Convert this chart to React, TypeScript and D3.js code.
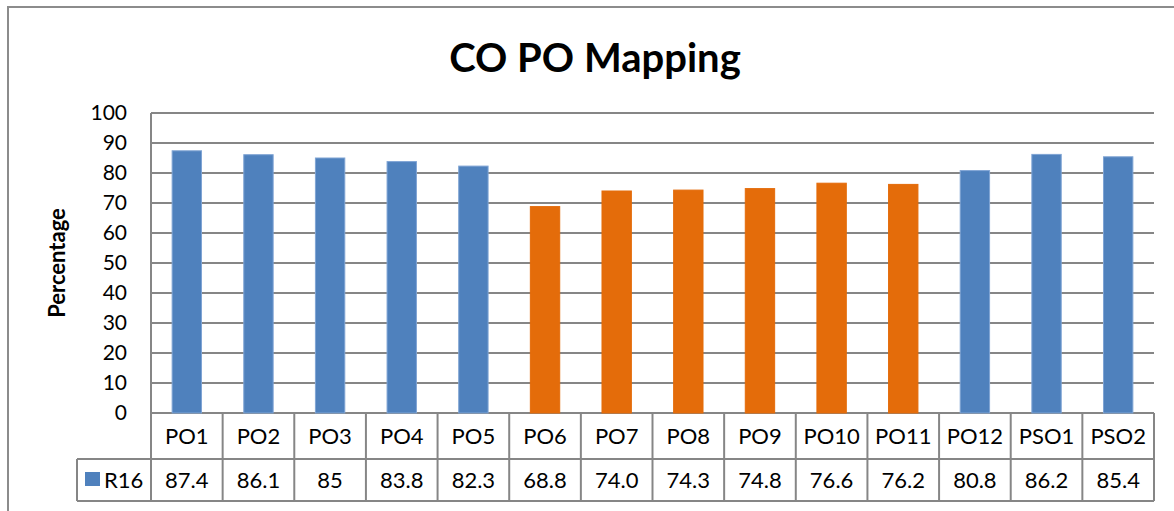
import React, { useEffect, useRef } from "react";
import * as d3 from "d3";

const categories = ["PO1", "PO2", "PO3", "PO4", "PO5", "PO6", "PO7", "PO8", "PO9", "PO10", "PO11", "PO12", "PSO1", "PSO2"];
const values = [87.4, 86.1, 85, 83.8, 82.3, 68.8, 74.0, 74.3, 74.8, 76.6, 76.2, 80.8, 86.2, 85.4];
const valueLabels = ["87.4", "86.1", "85", "83.8", "82.3", "68.8", "74.0", "74.3", "74.8", "76.6", "76.2", "80.8", "86.2", "85.4"];
const orangeCats = ["PO6", "PO7", "PO8", "PO9", "PO10", "PO11"];
const yTicks = [0, 10, 20, 30, 40, 50, 60, 70, 80, 90, 100];
const seriesName = "R16";

const W = 1174;
const H = 511;
const FONT = "Lato, 'Open Sans', sans-serif";

const App = () => {
  const ref = useRef<SVGSVGElement>(null);

  useEffect(() => {
    const svg = d3.select(ref.current);
    svg.selectAll("*").remove();

    const left = 151, right = 1154, top = 113, bottom = 413;
    const rowCat = 459, rowVal = 501, legendLeft = 77;
    const grid = "#868686";

    const x = d3.scaleBand().domain(categories).range([left, right]).paddingInner(0).paddingOuter(0);
    const y = d3.scaleLinear().domain([0, 100]).range([bottom, top]);

    // outer frame
    svg.append("path")
      .attr("d", `M8,${H} V7 H${W}`)
      .attr("fill", "none")
      .attr("stroke", "#8c8c8c")
      .attr("stroke-width", 2);

    svg.append("text")
      .attr("x", 595).attr("y", 72)
      .attr("text-anchor", "middle")
      .attr("font-family", FONT)
      .attr("font-weight", "bold")
      .attr("font-size", 40)
      .text("CO PO Mapping");

    // gridlines
    svg.append("g").selectAll("line").data(yTicks).join("line")
      .attr("x1", left).attr("x2", right)
      .attr("y1", d => y(d)).attr("y2", d => y(d))
      .attr("stroke", grid).attr("stroke-width", 2);
    svg.append("line")
      .attr("x1", left).attr("x2", left).attr("y1", top).attr("y2", bottom)
      .attr("stroke", grid).attr("stroke-width", 2);

    svg.append("g").selectAll("text").data(yTicks).join("text")
      .attr("x", 127).attr("y", d => y(d))
      .attr("dy", "0.35em")
      .attr("text-anchor", "end")
      .attr("font-family", FONT)
      .attr("font-size", 21)
      .text(d => d);

    svg.append("text")
      .attr("transform", `translate(65,${(top + bottom) / 2}) rotate(-90)`)
      .attr("text-anchor", "middle")
      .attr("font-family", FONT)
      .attr("font-weight", "bold")
      .attr("font-size", 22)
      .text("Percentage");

    const bw = x.bandwidth() * 0.41;
    svg.append("g").selectAll("rect").data(categories).join("rect")
      .attr("x", d => x(d)! + (x.bandwidth() - bw) / 2)
      .attr("width", bw)
      .attr("y", (d, i) => y(values[i]))
      .attr("height", (d, i) => y(0) - y(values[i]))
      .attr("fill", d => (orangeCats.includes(d) ? "#E46C0A" : "#4F81BD"))
      .attr("stroke", d => (orangeCats.includes(d) ? "#E46C0A" : "#7FA4D4"))
      .attr("stroke-width", 1);

    // data table
    const t = svg.append("g").attr("stroke", grid).attr("stroke-width", 2);
    t.append("line").attr("x1", legendLeft).attr("x2", right).attr("y1", rowCat).attr("y2", rowCat);
    t.append("line").attr("x1", legendLeft).attr("x2", right).attr("y1", rowVal).attr("y2", rowVal);
    t.append("line").attr("x1", legendLeft).attr("x2", legendLeft).attr("y1", rowCat).attr("y2", rowVal);
    t.selectAll("line.v").data([...categories.map(c => x(c)!), right]).join("line")
      .attr("class", "v")
      .attr("x1", d => d).attr("x2", d => d)
      .attr("y1", bottom).attr("y2", rowVal);

    svg.append("g").selectAll("text").data(categories).join("text")
      .attr("x", d => x(d)! + x.bandwidth() / 2)
      .attr("y", 444)
      .attr("text-anchor", "middle")
      .attr("font-family", FONT)
      .attr("font-size", 22)
      .text(d => d);

    svg.append("g").selectAll("text").data(categories).join("text")
      .attr("x", d => x(d)! + x.bandwidth() / 2)
      .attr("y", 488)
      .attr("text-anchor", "middle")
      .attr("font-family", FONT)
      .attr("font-size", 22)
      .text((d, i) => valueLabels[i]);

    svg.append("rect")
      .attr("x", 85).attr("y", 472).attr("width", 15).attr("height", 14)
      .attr("fill", "#4F81BD");
    svg.append("text")
      .attr("x", 104).attr("y", 488)
      .attr("font-family", FONT)
      .attr("font-size", 22)
      .text(seriesName);
  }, []);

  return (
    <svg
      ref={ref}
      width={W}
      height={H}
      style={{ position: "absolute", left: 0, top: 0, background: "#fff" }}
    />
  );
};

export default App;
